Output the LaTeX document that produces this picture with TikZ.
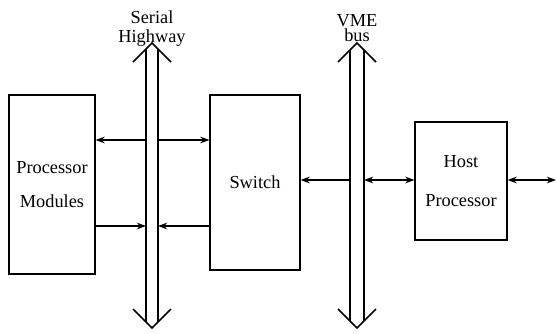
\documentclass[tikz,border=0pt]{standalone}
\usepackage{fontspec}
\setmainfont{Liberation Serif}
\usetikzlibrary{arrows.meta,positioning,calc}
\tikzset{
  blockbox/.style={draw, line width=0.7pt, inner sep=0pt, align=center,
    font=\fontsize{11}{13}\selectfont},
  link/.style={-{Stealth[length=5.5pt,width=4pt]}, line width=0.8pt},
  duplex/.style={{Stealth[length=5.5pt,width=4pt]}-{Stealth[length=5.5pt,width=4pt]}, line width=0.8pt},
  busline/.style={line width=0.9pt},
  buslabel/.style={font=\fontsize{11}{11.2}\selectfont, align=center, inner sep=0pt}
}
\begin{document}
\begin{tikzpicture}[x=0.6pt, y=-0.6pt]
  \useasboundingbox (0,0) rectangle (557,333);
  % blocks
  \node[blockbox, minimum width=51.6pt, minimum height=107.4pt] (pm) at (52,184.5) {Processor\\[7pt]Modules};
  \node[blockbox, minimum width=54pt, minimum height=105pt] (sw) at (255,182.5) {Switch};
  \node[blockbox, minimum width=55.2pt, minimum height=70.8pt] (host) at (461,181) {Host\\[10pt]Processor};
  % buses
  \foreach \x/\w/\n in {152/6/sh, 357/7/vme}{
    \coordinate (\n-l) at (\x-\w,0);
    \coordinate (\n-r) at (\x+\w,0);
    \draw[busline] (\x-\w,43+\w) -- (\x-\w,328-\w);
    \draw[busline] (\x+\w,43+\w) -- (\x+\w,328-\w);
    \draw[busline] (\x-19,62) -- (\x,43) -- (\x+19,62);
    \draw[busline] (\x-19,309) -- (\x,328) -- (\x+19,309);
  }
  \node[buslabel] (shlab) at (152,28.5) {Serial\\Highway};
  \node[buslabel, font=\fontsize{11}{9.5}\selectfont] (vmelab) at (357,28) {VME\\bus};
  % levels
  \coordinate (up) at (0,140);
  \coordinate (lo) at (0,226);
  \coordinate (mid) at (0,180);
  \coordinate (out) at (556,180);
  % connectors
  \draw[link] (sh-l |- up) -- (pm.east |- up);
  \draw[link] (sh-r |- up) -- (sw.west |- up);
  \draw[link] (pm.east |- lo) -- (sh-l |- lo);
  \draw[link] (sw.west |- lo) -- (sh-r |- lo);
  \draw[link] (vme-l |- mid) -- (sw.east |- mid);
  \draw[duplex] (vme-r |- mid) -- (host.west |- mid);
  \draw[duplex] (host.east |- mid) -- (out);
\end{tikzpicture}
\end{document}
